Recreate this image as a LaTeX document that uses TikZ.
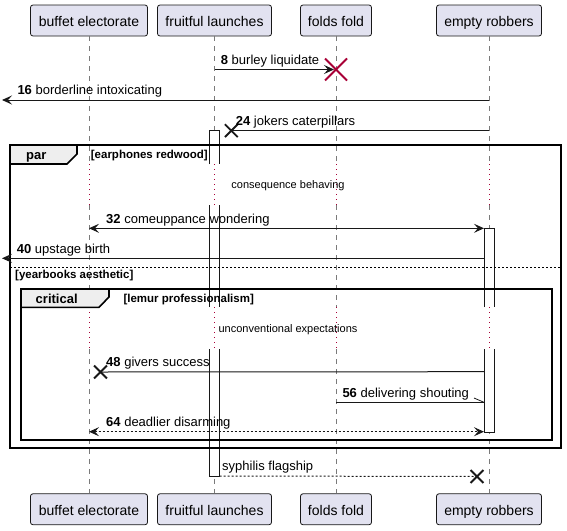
\documentclass[tikz,border=0pt]{standalone}
\usepackage{fontspec}
\setmainfont{Liberation Sans}
\usetikzlibrary{arrows.meta,shapes.misc}
\definecolor{ink}{HTML}{181818}
\definecolor{partfill}{HTML}{E2E2F0}
\definecolor{doom}{HTML}{A80036}
\definecolor{tabfill}{HTML}{EEEEEE}
\definecolor{lifegray}{HTML}{7A7A7A}

\tikzset{
  part/.style={draw=ink, fill=partfill, line width=0.8pt, rounded corners=2.5pt,
    minimum height=31pt, inner sep=0pt, text height=12.4pt, text depth=0pt,
    font=\fontsize{14}{16}\selectfont},
  lifeline/.style={draw=lifegray, line width=0.8pt, dash pattern=on 5pt off 5pt},
  delayline/.style={draw=doom, line width=0.8pt, dash pattern=on 1pt off 4pt},
  actbox/.style={draw=ink, line width=0.8pt},
  msg/.style={draw=ink, line width=1pt},
  head/.style={-{Stealth[length=10pt,width=9pt,inset=4pt]}},
  both/.style={{Stealth[length=10pt,width=9pt,inset=4pt]}-{Stealth[length=10pt,width=9pt,inset=4pt]}},
  reply/.style={dash pattern=on 2pt off 2pt},
  lbl/.style={anchor=base west, inner sep=0pt, font=\fontsize{13}{15}\selectfont},
  delaytxt/.style={anchor=base, inner sep=0pt, font=\fontsize{11}{13}\selectfont},
  guard/.style={anchor=base west, inner sep=0pt, font=\bfseries\fontsize{11.5}{13}\selectfont},
  framelbl/.style={anchor=base, inner sep=0pt, font=\bfseries\fontsize{13}{15}\selectfont},
  frame/.style={draw=black, line width=1.6pt},
  tab/.style={draw=black, fill=tabfill, line width=1.6pt},
  lost/.style={cross out, draw=ink, line width=1.8pt, minimum size=11pt, inner sep=0pt},
  kill/.style={cross out, draw=doom, line width=2pt, minimum size=20pt, inner sep=0pt},
}

\begin{document}
\begin{tikzpicture}[x=1pt,y=-1pt]
\path[use as bounding box] (0,0) rectangle (567,530);

% participants, head and foot
\foreach \n/\x/\w/\t in {B/89/117/buffet electorate, F/214.5/114/fruitful launches,
                         D/336/71/folds fold, E/489/105/empty robbers} {
  \node[part, minimum width=\w pt] (top\n) at (\x,20.5) {\t};
  \node[part, minimum width=\w pt] (bot\n) at (\x,509.25) {\t};
}

% delay bands
\coordinate (d1a) at (0,164);
\coordinate (d1b) at (0,205);
\coordinate (d2a) at (0,307);
\coordinate (d2b) at (0,349);

% lifelines
\foreach \n in {B,F,D,E} {
  \draw[lifeline] (top\n.south) -- (top\n.south |- d1a);
  \draw[delayline] (top\n.south |- d1a) -- (top\n.south |- d1b);
  \draw[lifeline] (top\n.south |- d1b) -- (top\n.south |- d2a);
  \draw[delayline] (top\n.south |- d2a) -- (top\n.south |- d2b);
  \draw[lifeline] (top\n.south |- d2b) -- (bot\n.north);
}

% activation of fruitful launches
\fill[white] (209.5,130.7) rectangle (219.5,164);
\draw[actbox] (209.5,164) -- (209.5,130.7) -- (219.5,130.7) -- (219.5,164);
\fill[white] (209.5,205) rectangle (219.5,307);
\draw[actbox] (209.5,205) -- (209.5,307) (219.5,205) -- (219.5,307);
\fill[white] (209.5,349) rectangle (219.5,476);
\draw[actbox] (209.5,349) -- (209.5,476) -- (219.5,476) -- (219.5,349);

% activation of empty robbers
\fill[white] (484,228.3) rectangle (494,307);
\draw[actbox] (484,307) -- (484,228.3) -- (494,228.3) -- (494,307);
\fill[white] (484,349) rectangle (494,432);
\draw[actbox] (484,349) -- (484,432) -- (494,432) -- (494,349);

% par frame
\draw[frame] (10,145) rectangle (561,448);
\draw[tab] (10,145) -- (77,145) -- (77,154) -- (67,164) -- (10,164) -- cycle;
\node[framelbl] (parlbl) at (36.3,159.5) {par};
\node[guard] (g1) at (90.7,158) {[earphones redwood]};
\draw[black, line width=0.8pt, dash pattern=on 2pt off 2pt] (10,267.7) -- (561,267.7);
\node[guard] (g2) at (15,278) {[yearbooks aesthetic]};

% critical frame
\draw[frame] (21,289) rectangle (552,440);
\draw[tab] (21,289) -- (109,289) -- (109,297) -- (99,307.3) -- (21,307.3) -- cycle;
\node[framelbl] (critlbl) at (56.7,303.5) {critical};
\node[guard] (g3) at (123.3,302.5) {[lemur professionalism]};

% delay texts
\node[delaytxt] (dl1) at (288,188.3) {consequence behaving};
\node[delaytxt] (dl2) at (288,332.7) {unconventional expectations};

% message 8
\coordinate (m8a) at (214.5,69.5);
\coordinate (m8b) at (334,69.5);
\draw[msg,head] (m8a) -- (m8b);
\node[kill] (x8) at (336,69.5) {};
\node[lbl] (l8) at (220.7,64.2) {\textbf{8} burley liquidate};

% message 16
\coordinate (m16a) at (489,100);
\coordinate (m16b) at (2,100);
\draw[msg,head] (m16a) -- (m16b);
\node[lbl] (l16) at (17.3,94.7) {\textbf{16} borderline intoxicating};

% message 24
\coordinate (m24a) at (489,130.7);
\node[lost] (x24) at (231.3,130.7) {};
\draw[msg] (m24a) -- (x24.center);
\node[lbl] (l24) at (235.7,125.4) {\textbf{24} jokers caterpillars};

% message 32
\coordinate (m32a) at (89,228.3);
\coordinate (m32b) at (484,228.3);
\draw[msg,both] (m32a) -- (m32b);
\node[lbl] (l32) at (106,223) {\textbf{32} comeuppance wondering};

% message 40
\coordinate (m40a) at (484,258.3);
\coordinate (m40b) at (2,258.3);
\draw[msg,head] (m40a) -- (m40b);
\node[lbl] (l40) at (16.7,253) {\textbf{40} upstage birth};

% message 48
\coordinate (m48a) at (484,371.7);
\node[lost] (x48) at (100.5,372) {};
\draw[msg] (m48a) -- (x48.center);
\node[lbl] (l48) at (106,366.4) {\textbf{48} givers success};

% message 56, thin upper half head
\coordinate (m56a) at (336,402.3);
\coordinate (m56b) at (484,402.3);
\draw[msg] (m56a) -- (m56b);
\draw[ink, line width=0.8pt] (m56b) -- ++(-10,-4.3);
\node[lbl] (l56) at (342.3,397) {\textbf{56} delivering shouting};

% message 64
\coordinate (m64a) at (89,431.7);
\coordinate (m64b) at (484,431.7);
\draw[msg,both,reply] (m64a) -- (m64b);
\node[lbl] (l64) at (106,426.4) {\textbf{64} deadlier disarming};

% closing reply
\coordinate (m72a) at (219.5,476);
\node[lost] (x72) at (477,476.5) {};
\draw[msg,reply] (m72a) -- (x72.center);
\node[lbl] (l72) at (222,470.7) {syphilis flagship};
\end{tikzpicture}
\end{document}
